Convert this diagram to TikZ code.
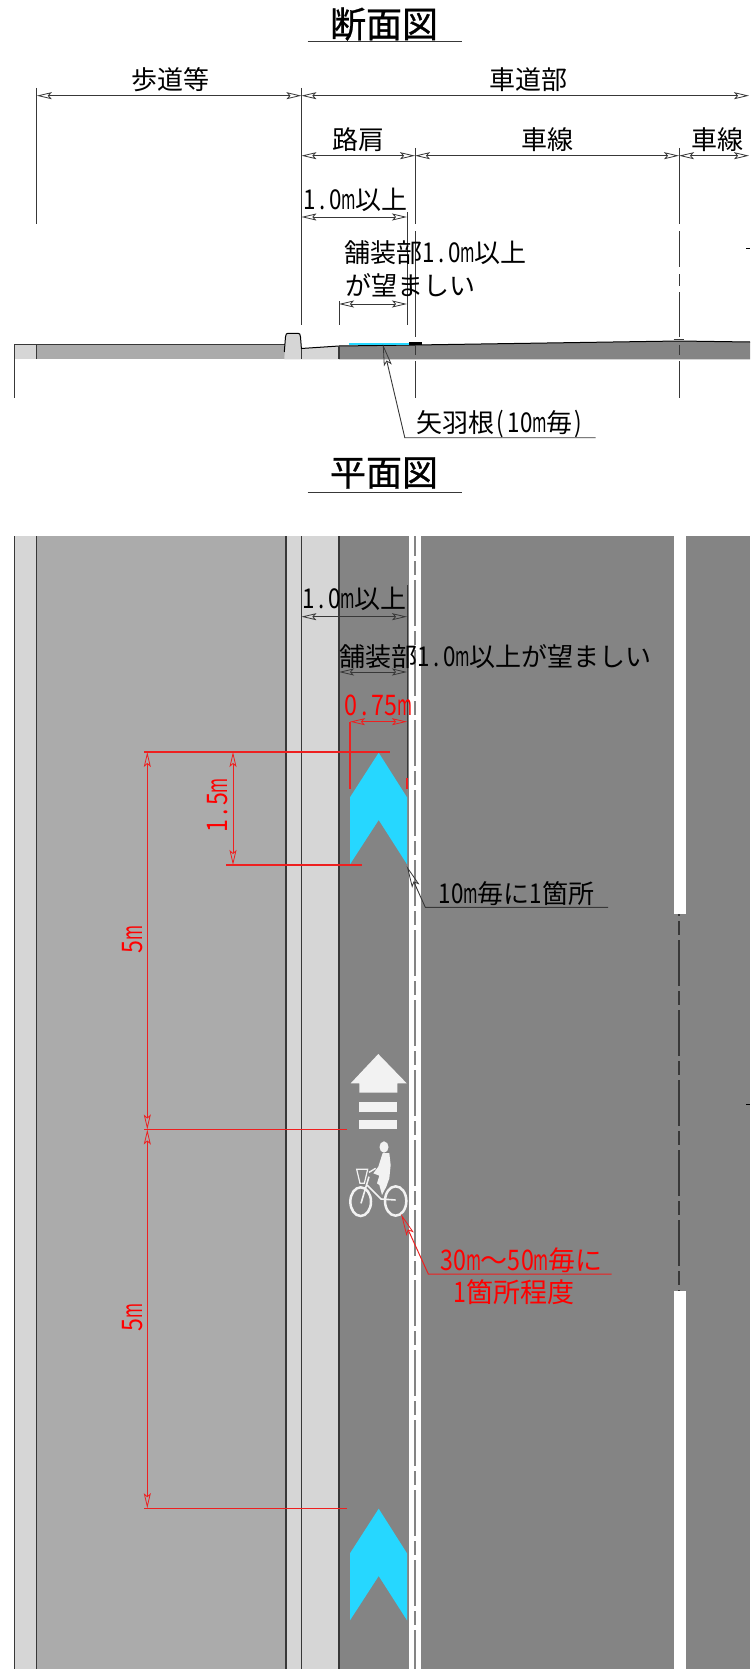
\documentclass[tikz,border=0pt]{standalone}
\usepackage{fontspec}
\usepackage{graphicx}
\usetikzlibrary{arrows.meta}
\setmainfont{Noto Sans CJK JP}
\newfontfamily\ttlfont[FakeBold=0.8]{Noto Sans CJK JP}
\makeatletter
\def\hwloop#1{\ifx#1\relax\else\makebox[.5em][c]{\ifx#1m\scalebox{.6}[1.05]{#1}\else\scalebox{.86}[1.05]{#1}\fi}\expandafter\hwloop\fi}
\newcommand{\hw}[1]{\hwloop#1\relax}
\makeatother
\definecolor{lightg}{HTML}{D6D6D6}
\definecolor{midg}{HTML}{ABABAB}
\definecolor{darkg}{HTML}{848484}
\definecolor{cy}{HTML}{26D7FF}
\definecolor{markc}{HTML}{F2F2F2}
\definecolor{redl}{HTML}{EE2020}
\definecolor{ln}{HTML}{383838}
\tikzset{
  cadtip/.tip={Stealth[open,length=15pt,width=7pt,inset=3pt,line width=.8pt]},
  dim/.style={line width=1pt,draw=ln,{cadtip}-{cadtip}},
  ext/.style={line width=1pt,draw=ln},
  edge/.style={line width=1.1pt,draw=ln},
  rdim/.style={line width=1pt,draw=redl,{cadtip}-{cadtip}},
  rext/.style={line width=1.1pt,draw=redl},
  lead/.style={line width=.9pt,draw=ln},
  rlead/.style={line width=1pt,draw=redl},
  leadtip/.tip={Stealth[open,length=22pt,width=8pt,inset=4pt,line width=.8pt]},
  lbl/.style={inner sep=0pt,outer sep=0pt,font=\fontsize{26}{26}\selectfont,text=black},
  rlbl/.style={inner sep=0pt,outer sep=0pt,font=\fontsize{27}{27}\selectfont,text=red},
  ttl/.style={inner sep=0pt,outer sep=0pt,font=\ttlfont\fontsize{36}{36}\selectfont,text=black},
  chev/.style={fill=cy,draw=none},
  whitem/.style={fill=markc,draw=none},
  bikeline/.style={draw=markc},
  cdash/.style={line width=2pt,draw=ln,dash pattern=on 46pt off 5pt on 14pt off 5pt}
}
\begin{document}
\begin{tikzpicture}[x=1pt,y=-1pt]
\useasboundingbox (0,0) rectangle (750,1672);
\clip (0,0) rectangle (750,1672);
\fill[white] (0,0) rectangle (750,1672);

% ---- section road body
\fill[lightg] (14.4,344.3) rectangle (36.8,359.3);
\fill[midg] (36.8,344.3) rectangle (285,359.3);
\fill[lightg] (284.3,359.3) -- (285.5,337) .. controls (285.7,334) and (286.5,333.3) .. (288,333.3) -- (298,333.3) .. controls (299.5,333.3) and (300.3,334) .. (300.5,337) -- (301.7,348.5) -- (339,346) -- (339,359.3) -- cycle;
\fill[darkg] (339,346) -- (415,345) -- (679,341) -- (750,342) -- (750,359.3) -- (339,359.3) -- cycle;
\draw[line width=1.4pt,draw=ln] (14.4,344.3) -- (285,344.3);
\draw[line width=1pt,black] (284.3,352) -- (285.5,337) .. controls (285.7,334) and (286.5,333.3) .. (288,333.3) -- (298,333.3) .. controls (299.5,333.3) and (300.3,334) .. (300.5,337) -- (301.4,348.5) -- (339,346) -- (415,345) -- (679,341) -- (750,342);
\fill[cy] (349,342.6) rectangle (409,345.2);
\fill[black] (409,342) rectangle (421.5,345.4);
\draw[line width=.9pt,ln] (673.7,339.5) -- (684,339.5);
\draw[edge] (14.4,344.3) -- (14.4,397.7);
\draw[edge] (36.8,344.3) -- (36.8,359.3);
\draw[edge] (301.4,348.5) -- (301.4,359.3);
\draw[edge] (339,346) -- (339,359.3);

% ---- plan road body
\fill[lightg] (14.4,536) rectangle (36.8,1669);
\fill[midg] (36.8,536) rectangle (286,1669);
\fill[lightg] (286,536) rectangle (339,1669);
\fill[darkg] (339,536) rectangle (750,1669);
\fill[white] (409.3,536) rectangle (420.7,1669);
\fill[white] (673.5,536) rectangle (685.7,914);
\fill[white] (673.5,1291) rectangle (685.7,1669);
\draw[edge] (14.4,536) -- (14.4,1669);
\draw[edge] (36.8,536) -- (36.8,1669);
\draw[edge] (286,536) -- (286,1669);
\draw[edge] (301.4,536) -- (301.4,1669);
\draw[edge] (339,536) -- (339,1669);
\draw[line width=2.4pt,draw=darkg,dash pattern=on 46pt off 5pt on 14pt off 5pt,dash phase=26pt] (415,536) -- (415,1669);
\draw[cdash,dash phase=44pt] (679,914) -- (679,1291);

% ---- named anchors, section dimensions
\coordinate (sa) at (36.8,95.7);
\coordinate (sb) at (301.4,95.7);
\coordinate (sc) at (749,95.7);
\coordinate (ra) at (301.4,155.7);
\coordinate (rb) at (415,155.7);
\coordinate (rc) at (679,155.7);
\coordinate (rd) at (749,155.7);
\coordinate (oa) at (301.4,217);
\coordinate (ob) at (407,217);
\coordinate (pa) at (339,304);
\coordinate (pb) at (407,304);
\draw[dim] (sa) -- (sb);
\draw[dim] (sb) -- (sc);
\draw[dim] (ra) -- (rb);
\draw[dim] (rb) -- (rc);
\draw[dim] (rc) -- (rd);
\draw[dim] (oa) -- (ob);
\draw[dim] (pa) -- (pb);
\draw[ext] (36.8,88) -- (36.8,224);
\draw[ext] (301.4,88) -- (301.4,325);
\draw[ext] (415,148) -- (415,224) (415,231) -- (415,337) (415,345) -- (415,355) (415,361) -- (415,397.7);
\draw[ext] (679,148) -- (679,224) (679,231) -- (679,267) (679,274) -- (679,286) (679,292) -- (679,337) (679,345) -- (679,355) (679,361) -- (679,397.7);
\draw[ext] (407,212) -- (407,325);
\draw[ext] (339,301) -- (339,325);
\draw[line width=1pt,black] (746,248.7) -- (750,248.7);
\draw[line width=1pt,black] (746,1104) -- (750,1104);

% ---- titles
\node[ttl] (t1) at (384,24) {断面図};
\coordinate (t1a) at (307.7,42);
\coordinate (t1b) at (461.7,42);
\draw[ext] (t1a) -- (t1b);
\node[ttl] (t2) at (384,473) {平面図};
\coordinate (t2a) at (307.7,492.7);
\coordinate (t2b) at (461.7,492.7);
\draw[ext] (t2a) -- (t2b);

% ---- section labels
\node[lbl] (l1) at (170,80) {歩道等};
\node[lbl] (l2) at (528,80) {車道部};
\node[lbl] (l3) at (358,140) {路肩};
\node[lbl] (l4) at (547,140) {車線};
\node[lbl] (l5) at (717,140) {車線};
\node[lbl] (l6) at (355,200) {\hw{1.0m}以上};
\node[lbl,anchor=west] (l7) at (344.5,253) {舗装部\hw{1.0m}以上};
\node[lbl,anchor=west] (l8) at (345,285) {が望ましい};
\node[lbl,anchor=west] (l9) at (416,424) {矢羽根\hw{(10m}毎\hw{)}};
\coordinate (y1) at (382.8,344);
\coordinate (y2) at (404.8,437.7);
\coordinate (y3) at (595.7,437.7);
\draw[lead,{leadtip}-] (y1) -- (y2) -- (y3);

% ---- plan markings
\fill[chev] (378.7,752.7) -- (407,797.3) -- (407,864.3) -- (378.7,820) -- (350,864.3) -- (350,797.3) -- cycle;
\fill[chev] (378.7,1508.7) -- (407,1553.3) -- (407,1620.3) -- (378.7,1576) -- (350,1620.3) -- (350,1553.3) -- cycle;
\fill[whitem] (378.3,1054) -- (406.7,1083.3) -- (397.3,1083.3) -- (397.3,1092.7) -- (359.3,1092.7) -- (359.3,1083.3) -- (350.7,1083.3) -- cycle;
\fill[whitem] (359.3,1102) rectangle (397.3,1111.7);
\fill[whitem] (359.3,1120) rectangle (397.3,1129);

% bicycle
\begin{scope}[shift={(345,1135)},x=.3333pt,y=-.3333pt]
\fill[whitem] (117,36) ellipse [x radius=13.5,y radius=17];
\fill[whitem] (113,54) -- (133,54) -- (137,90) -- (133,130) -- (124,155) -- (111,180) -- (103,150) -- (96,145) -- (103,122) -- (85,115) -- (100,95) -- cycle;
\draw[bikeline,line width=1.2pt] (35,103) -- (68,103) -- (58,145) -- (45,145) -- cycle;
\draw[bikeline,line width=1.4pt] (72,112) -- (92,100);
\draw[bikeline,line width=1.6pt] (48,205) -- (72,125);
\draw[bikeline,line width=1.6pt] (66,150) -- (108,192) -- (152,195);
\draw[bikeline,line width=2.5pt] (47,200) ellipse [x radius=31,y radius=43];
\draw[bikeline,line width=2.5pt] (152,198) ellipse [x radius=32,y radius=44];
\end{scope}

% ---- plan dimensions, black
\draw[ext] (301.4,536) -- (301.4,703);
\draw[ext] (339,600) -- (339,778);
\draw[ext] (407,585) -- (407,778);
\coordinate (qa) at (301.4,616.7);
\coordinate (qb) at (407,616.7);
\coordinate (qc) at (339,672);
\coordinate (qd) at (407,672);
\draw[dim] (qa) -- (qb);
\draw[dim] (qc) -- (qd);
\node[lbl] (m1) at (354,599) {\hw{1.0m}以上};
\node[lbl,anchor=west] (m2) at (339,657) {舗装部\hw{1.0m}以上が望ましい};
\node[lbl,anchor=west] (m3) at (438,894) {\hw{10m}毎に\hw{1}箇所};
\coordinate (u1) at (406.7,866);
\coordinate (u2) at (425.3,907.3);
\coordinate (u3) at (608,907.3);
\draw[lead,{leadtip}-] (u1) -- (u2) -- (u3);

% ---- plan dimensions, red
\coordinate (ea) at (350,721.7);
\coordinate (eb) at (407,721.7);
\draw[rdim] (ea) -- (eb);
\draw[rext] (350,721.7) -- (350,789);
\draw[rext] (407,778) -- (407,789);
\node[rlbl,anchor=west] (r1) at (344,705) {\hw{0.75m}};
\coordinate (h1a) at (144,752);
\coordinate (h1b) at (390,752);
\draw[rext] (h1a) -- (h1b);
\coordinate (h2a) at (226,865);
\coordinate (h2b) at (361.7,865);
\draw[rext] (h2a) -- (h2b);
\coordinate (h3a) at (144,1129.5);
\coordinate (h3b) at (346.7,1129.5);
\draw[rext] (h3a) -- (h3b);
\coordinate (h4a) at (144,1508.2);
\coordinate (h4b) at (346.7,1508.2);
\draw[rext] (h4a) -- (h4b);
\coordinate (v1a) at (147.3,752);
\coordinate (v1b) at (147.3,1129.5);
\coordinate (v1c) at (147.3,1508.2);
\coordinate (v2a) at (233,752);
\coordinate (v2b) at (233,865);
\draw[rdim] (v1a) -- (v1b);
\draw[rdim] (v1b) -- (v1c);
\draw[rdim] (v2a) -- (v2b);
\node[rlbl,rotate=90] (r2) at (218,806) {\hw{1.5m}};
\node[rlbl,rotate=90] (r3) at (132.3,940) {\hw{5m}};
\node[rlbl,rotate=90] (r4) at (132.3,1318) {\hw{5m}};
\node[rlbl,anchor=west] (r5) at (440,1260) {\hw{30m}～\hw{50m}毎に};
\node[rlbl,anchor=west] (r6) at (453,1291.7) {\hw{1}箇所程度};
\coordinate (w1) at (401,1214);
\coordinate (w2) at (428.3,1274);
\coordinate (w3) at (611.7,1274);
\draw[rlead,{leadtip}-] (w1) -- (w2) -- (w3);
\end{tikzpicture}
\end{document}
